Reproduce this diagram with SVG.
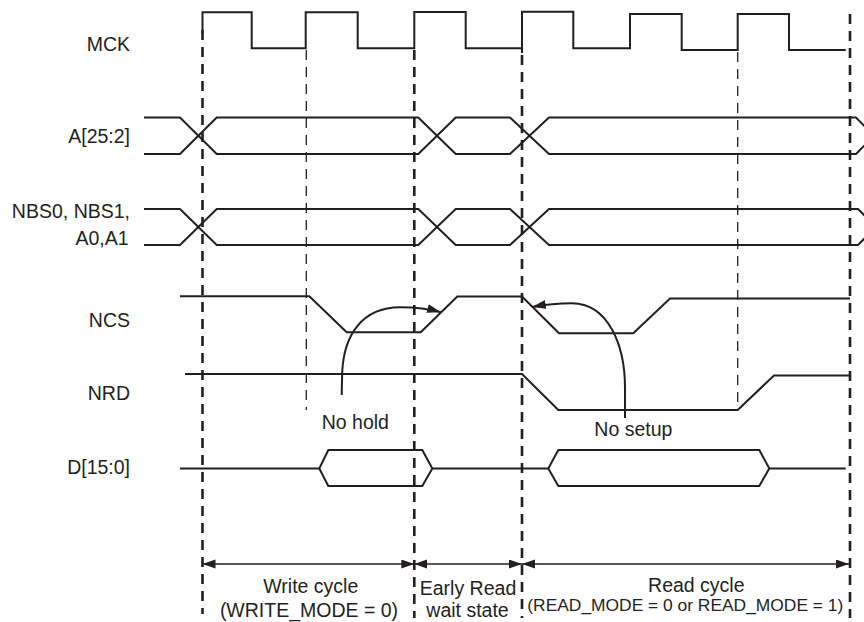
<svg xmlns="http://www.w3.org/2000/svg" width="864" height="622" viewBox="0 0 864 622">
<style>
  .sig{fill:none;stroke:#231f20;stroke-width:2;stroke-linejoin:miter}
  .dk{fill:none;stroke:#231f20;stroke-width:2.6;stroke-dasharray:10 7}
  .dt{fill:none;stroke:#231f20;stroke-width:1.3;stroke-dasharray:10 7}
  .dim{fill:none;stroke:#231f20;stroke-width:1.5}
  .cur{fill:none;stroke:#231f20;stroke-width:2}
  text{font-family:"Liberation Sans",Arial,sans-serif;font-size:19.5px;fill:#231f20}
  .lbl{text-anchor:end}
  .mid{text-anchor:middle}
</style>
<defs>
  <marker id="dimArrow" markerUnits="userSpaceOnUse" markerWidth="14" markerHeight="10" refX="13" refY="4.5" orient="auto-start-reverse" viewBox="0 0 14 10">
    <path d="M0,0 L13,4.5 L0,9 z" fill="#231f20"/>
  </marker>
  <marker id="curArrow" markerUnits="userSpaceOnUse" markerWidth="15" markerHeight="10" refX="14" refY="4.5" orient="auto" viewBox="0 0 15 10">
    <path d="M0,0 L14,4.5 L0,9 z" fill="#231f20"/>
  </marker>
</defs>
<rect width="864" height="622" fill="#ffffff"/>

<g id="guides">
  <line class="dk" x1="202.5" y1="30" x2="202.5" y2="614"/>
  <line class="dk" x1="414.3" y1="50" x2="414.3" y2="618"/>
  <line class="dk" x1="522" y1="55" x2="522" y2="618"/>
  <line class="dk" x1="850" y1="14" x2="850" y2="618"/>
  <line class="dt" x1="306.3" y1="50" x2="306.3" y2="410"/>
  <line class="dt" x1="737.7" y1="52" x2="737.7" y2="408"/>
</g>

<g id="MCK">
  <text class="lbl" x="130" y="50.7">MCK</text>
  <path class="sig" d="M202.5,33 V12.3 H251.7 V48.3 H305.7 V12.3 H357.7 V48.3 H414.3 V12 H465.7 V48.3 H522 V11.7 H573.3 V48.3 H630 V14 H681.7 V50 H737.7 V14 H789 V50 H845.7"/>
  <path class="sig" d="M522,48.3 V53"/>
</g>

<g id="A25_2">
  <text class="lbl" x="130" y="143">A[25:2]</text>
  <path class="sig" d="M144,117.5 H180 L216.7,154 H418.3 L455.7,117.5 H510 L549,154 H856 L874,135.75"/>
  <path class="sig" d="M144,154 H180 L216.7,117.5 H418.3 L455.7,154 H510 L549,117.5 H856 L874,135.75"/>
</g>

<g id="NBS">
  <text class="lbl" x="130" y="218">NBS0, NBS1,</text>
  <text class="lbl" x="128.5" y="245">A0,A1</text>
  <path class="sig" d="M144,209 H180 L216.7,245 H418.3 L455.7,209 H510 L549,245 H858 L876,227"/>
  <path class="sig" d="M144,245 H180 L216.7,209 H418.3 L455.7,245 H510 L549,209 H858 L876,227"/>
</g>

<g id="NCS">
  <text class="lbl" x="130" y="327.3">NCS</text>
  <path class="sig" d="M180,296.3 H309.3 L346.7,332.3 H420.7 L457.3,296.5 H522 L559,333.3 H633.3 L670,298.5 H850"/>
</g>

<g id="NRD">
  <text class="lbl" x="130" y="399.5">NRD</text>
  <path class="sig" d="M185,374 H522 L558.3,410 H737.7 L774,375.5 H850"/>
</g>

<g id="D15_0">
  <text class="lbl" x="130" y="474">D[15:0]</text>
  <path class="sig" d="M180,468.5 H319.3 M432.3,468.5 H548.3 M769.3,468.5 H845.7"/>
  <path class="sig" d="M319.3,468.5 L328.3,450 H422.3 L432.3,468.5 L422.3,486 H328.3 Z"/>
  <path class="sig" d="M548.3,468.5 L558.3,450 H759.3 L769.3,468.5 L759.3,486 H558.3 Z"/>
</g>

<g id="notes">
  <text x="321.7" y="429.3">No hold</text>
  <text x="594.3" y="435.5">No setup</text>
</g>

<g id="connectors">
  <path class="cur" d="M341.7,395 L342.2,372 C344,335 362,307.5 400,307.3 C420,307.3 431,309.5 441,312.3" marker-end="url(#curArrow)"/>
  <path class="cur" d="M625,418 L625,388 C625,345 608,303.5 572,303.3 C555,303.3 543,305 532,307" marker-end="url(#curArrow)"/>
  <line class="dim" x1="202.5" y1="564" x2="414.3" y2="564" marker-start="url(#dimArrow)" marker-end="url(#dimArrow)"/>
  <line class="dim" x1="414.3" y1="564" x2="522" y2="564" marker-start="url(#dimArrow)" marker-end="url(#dimArrow)"/>
  <line class="dim" x1="522" y1="564" x2="849" y2="564" marker-start="url(#dimArrow)" marker-end="url(#dimArrow)"/>
</g>

<g id="spans">
  <text class="mid" x="310.8" y="593.3">Write cycle</text>
  <text class="mid" x="309" y="616.7">(WRITE_MODE = 0)</text>
  <text class="mid" x="468" y="594.8">Early Read</text>
  <text class="mid" x="467.5" y="617">wait state</text>
  <text class="mid" x="696.3" y="592">Read cycle</text>
  <text class="mid" x="685.3" y="610.7" style="font-size:17.4px">(READ_MODE = 0 or READ_MODE = 1)</text>
</g>
</svg>
